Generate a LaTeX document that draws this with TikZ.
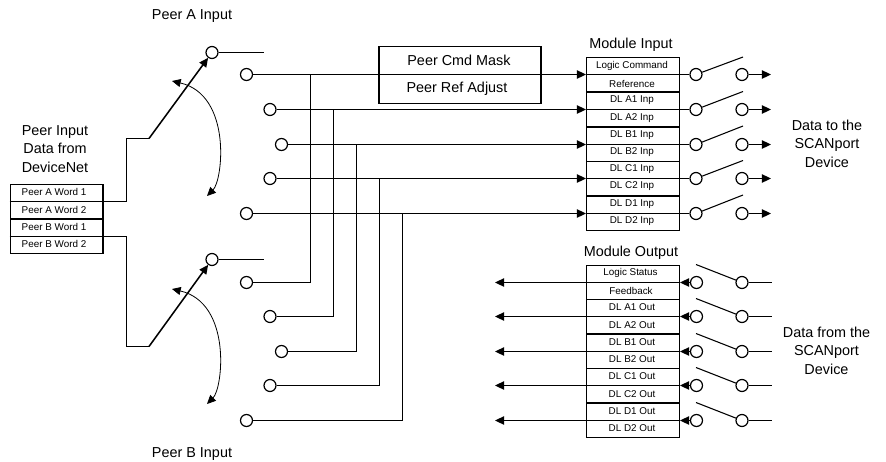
\documentclass[tikz,border=0pt]{standalone}
\usepackage{fontspec}
\setmainfont{Liberation Sans}
\usepackage{tikz}
\usetikzlibrary{arrows.meta}

\begin{document}
\begin{tikzpicture}[
        x=0.75pt, y=-0.75pt,
        lbl/.style={inner sep=0pt, align=center, font=\fontsize{10.8}{13.9}\selectfont},
        cell/.style={inner sep=0pt, font=\fontsize{7.4}{9}\selectfont},
        grp/.style={draw, line width=1pt, inner sep=0pt, minimum width=69.5pt, minimum height=25.9pt},
        maskbox/.style={draw, line width=0.9pt, inner sep=0pt, minimum width=121.5pt, minimum height=43pt},
        term/.style={draw, circle, line width=0.9pt, fill=white, inner sep=0pt, minimum size=9pt},
        wire/.style={line width=1.15pt},
        thru/.style={line width=0.5pt},
        arm/.style={line width=0.8pt},
        arr/.style={line width=1.15pt, -{Triangle[length=6.8pt,width=6.2pt]}},
        swing/.style={line width=0.6pt, {Triangle[length=6.5pt,width=6pt]}-{Triangle[length=6.5pt,width=6pt]}}
    ]
    \useasboundingbox (0,0) rectangle (886,461);
    \node[lbl] (ttlA) at (192,16) {Peer A Input};
    \node[lbl] (ttlB) at (192,454) {Peer B Input};
    \node[lbl] (ttlP) at (55,149) {Peer Input\\Data from\\DeviceNet};
    \node[lbl] (ttlI) at (631,45) {Module Input};
    \node[lbl] (ttlO) at (631,253) {Module Output};
    \node[lbl] (ttlT) at (827,143.5) {Data to the\\SCANport\\Device};
    \node[lbl] (ttlF) at (826.5,350.5) {Data from the\\SCANport\\Device};

    \node[grp, minimum width=69.5pt] (peerA) at (56.5,201.5) {};
    \node[grp, minimum width=69.5pt] (peerB) at (56.5,236.5) {};
    \node[cell] (wA1) at (54,192) {Peer A Word 1};
    \node[cell] (wA2) at (54,210) {Peer A Word 2};
    \node[cell] (wB1) at (54,227) {Peer B Word 1};
    \node[cell] (wB2) at (54,244) {Peer B Word 2};
    \draw[thru] (peerA.west) -- (peerA.east);
    \draw[thru] (peerB.west) -- (peerB.east);

    \node[maskbox] (cmd) at (460,75) {};
    \node[lbl] (cmdT) at (459,60) {Peer Cmd Mask};
    \node[lbl] (refT) at (457,89) {Peer Ref Adjust};

    \node[grp] (mi1) at (633,74.5) {};
    \node[grp] (mi2) at (633,109.5) {};
    \node[grp] (mi3) at (633,144.5) {};
    \node[grp] (mi4) at (633,178.5) {};
    \node[grp] (mi5) at (633,213.5) {};
    \node[cell] (ci1) at (632,66) {Logic Command};
    \node[cell] (ci2) at (632,83.5) {Reference};
    \node[cell] (ci3) at (632,100.5) {DL A1 Inp};
    \node[cell] (ci4) at (632,118) {DL A2 Inp};
    \node[cell] (ci5) at (632,135) {DL B1 Inp};
    \node[cell] (ci6) at (632,152.5) {DL B2 Inp};
    \node[cell] (ci7) at (632,169.5) {DL C1 Inp};
    \node[cell] (ci8) at (632,186.5) {DL C2 Inp};
    \node[cell] (ci9) at (632,204.5) {DL D1 Inp};
    \node[cell] (ci10) at (632,221.5) {DL D2 Inp};

    \node[grp] (mo1) at (633,282.5) {};
    \node[grp] (mo2) at (633,316.5) {};
    \node[grp] (mo3) at (633,351.5) {};
    \node[grp] (mo4) at (633,385.5) {};
    \node[grp] (mo5) at (633,420.5) {};
    \node[cell] (co1) at (630.5,273) {Logic Status};
    \node[cell] (co2) at (631,290.5) {Feedback};
    \node[cell] (co3) at (632,307.5) {DL A1 Out};
    \node[cell] (co4) at (632,325) {DL A2 Out};
    \node[cell] (co5) at (632,342) {DL B1 Out};
    \node[cell] (co6) at (632,359.5) {DL B2 Out};
    \node[cell] (co7) at (632,376.5) {DL C1 Out};
    \node[cell] (co8) at (632,394) {DL C2 Out};
    \node[cell] (co9) at (632,411) {DL D1 Out};
    \node[cell] (co10) at (632,428.5) {DL D2 Out};

    \node[term] (swA) at (212,52.5) {};
    \node[term] (swB) at (212,259.5) {};
    \node[term] (ta1) at (246.5,74.5) {};
    \node[term] (ta2) at (270,109.5) {};
    \node[term] (ta3) at (281.5,144.5) {};
    \node[term] (ta4) at (270,178.5) {};
    \node[term] (ta5) at (246.5,213.5) {};
    \node[term] (tb1) at (246.5,282.5) {};
    \node[term] (tb2) at (270,316.5) {};
    \node[term] (tb3) at (281.5,351.5) {};
    \node[term] (tb4) at (270,385.5) {};
    \node[term] (tb5) at (246.5,420.5) {};

    \node[term] (si1) at (696,74.5) {};
    \node[term] (si2) at (696,109.5) {};
    \node[term] (si3) at (696,144.5) {};
    \node[term] (si4) at (696,178.5) {};
    \node[term] (si5) at (696,213.5) {};
    \node[term] (ri1) at (742,74.5) {};
    \node[term] (ri2) at (742,109.5) {};
    \node[term] (ri3) at (742,144.5) {};
    \node[term] (ri4) at (742,178.5) {};
    \node[term] (ri5) at (742,213.5) {};
    \node[term] (so1) at (696.5,282.5) {};
    \node[term] (so2) at (696.5,316.5) {};
    \node[term] (so3) at (696.5,351.5) {};
    \node[term] (so4) at (696.5,385.5) {};
    \node[term] (so5) at (696.5,420.5) {};
    \node[term] (ro1) at (742,282.5) {};
    \node[term] (ro2) at (742,316.5) {};
    \node[term] (ro3) at (742,351.5) {};
    \node[term] (ro4) at (742,385.5) {};
    \node[term] (ro5) at (742,420.5) {};

    \coordinate (kA) at (126.5,138.5);
    \coordinate (lA) at (149,138.5);
    \coordinate (kB) at (126.5,346.5);
    \coordinate (lB) at (149,346.5);
    \draw[wire] (peerA.east) -| (kA) -- (lA);
    \draw[arr] (lA) -- (swA);
    \draw[wire] (peerB.east) -| (kB) -- (lB);
    \draw[arr] (lB) -- (swB);
    \coordinate (eA) at (264,52.5);
    \coordinate (eB) at (264,259.5);
    \draw[wire] (swA) -- (eA);
    \draw[wire] (swB) -- (eB);

    \coordinate (sA1) at (172,81);
    \coordinate (sA2) at (207,196);
    \coordinate (sB1) at (172,289);
    \coordinate (sB2) at (207,404);
    \draw[swing] (sA1) .. controls (232,95) and (223,180) .. (sA2);
    \draw[swing] (sB1) .. controls (232,303) and (223,388) .. (sB2);

    \draw[arr] (ta1) -- (mi1.west);
    \draw[arr] (ta2) -- (mi2.west);
    \draw[arr] (ta3) -- (mi3.west);
    \draw[arr] (ta4) -- (mi4.west);
    \draw[arr] (ta5) -- (mi5.west);

    \coordinate (j1) at (310.5,74.5);
    \coordinate (j2) at (333.5,109.5);
    \coordinate (j3) at (356.5,144.5);
    \coordinate (j4) at (379.5,178.5);
    \coordinate (j5) at (402.5,213.5);
    \draw[wire] (tb1) -| (j1);
    \draw[wire] (tb2) -| (j2);
    \draw[wire] (tb3) -| (j3);
    \draw[wire] (tb4) -| (j4);
    \draw[wire] (tb5) -| (j5);

    \draw[thru] (mi1.west) -- (mi1.east);
    \draw[thru] (mi2.west) -- (mi2.east);
    \draw[thru] (mi3.west) -- (mi3.east);
    \draw[thru] (mi4.west) -- (mi4.east);
    \draw[thru] (mi5.west) -- (mi5.east);
    \draw[wire] (mi1.east) -- (si1);
    \draw[wire] (mi2.east) -- (si2);
    \draw[wire] (mi3.east) -- (si3);
    \draw[wire] (mi4.east) -- (si4);
    \draw[wire] (mi5.east) -- (si5);

    \coordinate (ai1) at (743,57);
    \coordinate (ai2) at (743,91.5);
    \coordinate (ai3) at (743,126);
    \coordinate (ai4) at (743,160.5);
    \coordinate (ai5) at (743,195);
    \draw[arm] (si1) -- (ai1);
    \draw[arm] (si2) -- (ai2);
    \draw[arm] (si3) -- (ai3);
    \draw[arm] (si4) -- (ai4);
    \draw[arm] (si5) -- (ai5);

    \coordinate (ei1) at (771,74.5);
    \coordinate (ei2) at (771,109.5);
    \coordinate (ei3) at (771,144.5);
    \coordinate (ei4) at (771,178.5);
    \coordinate (ei5) at (771,213.5);
    \draw[arr] (ri1) -- (ei1);
    \draw[arr] (ri2) -- (ei2);
    \draw[arr] (ri3) -- (ei3);
    \draw[arr] (ri4) -- (ei4);
    \draw[arr] (ri5) -- (ei5);

    \coordinate (po1) at (495,282.5);
    \coordinate (po2) at (495,316.5);
    \coordinate (po3) at (495,351.5);
    \coordinate (po4) at (495,385.5);
    \coordinate (po5) at (495,420.5);
    \draw[arr] (mo1.west) -- (po1);
    \draw[arr] (mo2.west) -- (po2);
    \draw[arr] (mo3.west) -- (po3);
    \draw[arr] (mo4.west) -- (po4);
    \draw[arr] (mo5.west) -- (po5);
    \draw[thru] (mo1.west) -- (mo1.east);
    \draw[thru] (mo2.west) -- (mo2.east);
    \draw[thru] (mo3.west) -- (mo3.east);
    \draw[thru] (mo4.west) -- (mo4.east);
    \draw[thru] (mo5.west) -- (mo5.east);
    \draw[arr] (so1) -- (mo1.east);
    \draw[arr] (so2) -- (mo2.east);
    \draw[arr] (so3) -- (mo3.east);
    \draw[arr] (so4) -- (mo4.east);
    \draw[arr] (so5) -- (mo5.east);

    \coordinate (ao1) at (696,264.5);
    \coordinate (ao2) at (696,298.5);
    \coordinate (ao3) at (696,333.5);
    \coordinate (ao4) at (696,367.5);
    \coordinate (ao5) at (696,402.5);
    \draw[arm] (ao1) -- (ro1);
    \draw[arm] (ao2) -- (ro2);
    \draw[arm] (ao3) -- (ro3);
    \draw[arm] (ao4) -- (ro4);
    \draw[arm] (ao5) -- (ro5);

    \coordinate (eo1) at (772,282.5);
    \coordinate (eo2) at (772,316.5);
    \coordinate (eo3) at (772,351.5);
    \coordinate (eo4) at (772,385.5);
    \coordinate (eo5) at (772,420.5);
    \draw[wire] (ro1) -- (eo1);
    \draw[wire] (ro2) -- (eo2);
    \draw[wire] (ro3) -- (eo3);
    \draw[wire] (ro4) -- (eo4);
    \draw[wire] (ro5) -- (eo5);
\end{tikzpicture}
\end{document}
